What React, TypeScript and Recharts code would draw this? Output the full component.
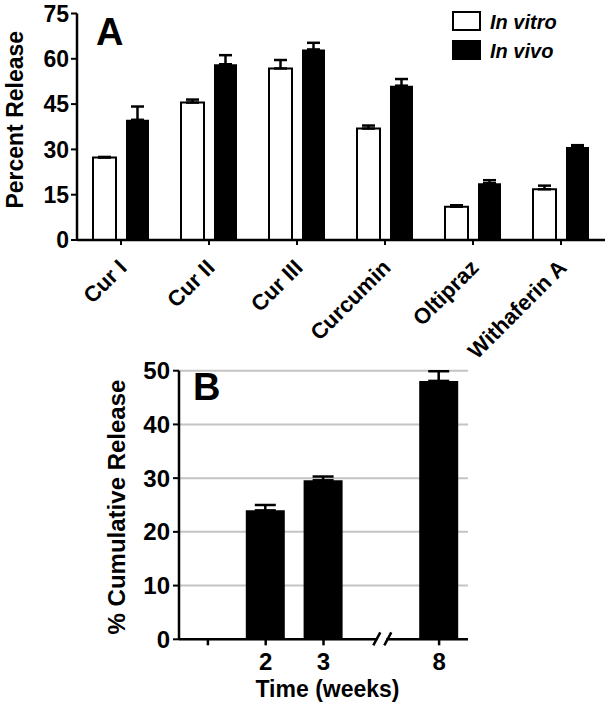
import React from 'react';
import { BarChart, Bar, XAxis, YAxis, ErrorBar, Legend, CartesianGrid } from 'recharts';

const FONT = '"Liberation Sans", Arial, Helvetica, sans-serif';

// Panel A
const compounds = ['Cur I', 'Cur II', 'Cur III', 'Curcumin', 'Oltipraz', 'Withaferin A'];
const inVitro = [27.3, 45.5, 56.8, 36.9, 11.0, 16.8];
const inVitroErr = [0.2, 1.0, 2.8, 1.0, 0.5, 1.2];
const inVivo = [39.8, 58.2, 63.1, 51.1, 18.8, 30.8];
const inVivoErr = [4.4, 3.0, 2.2, 2.2, 1.0, 0.6];
const percentTicks = [0, 15, 30, 45, 60, 75];

// Panel B ('//' marks the axis break)
const weeks = ['', '2', '3', '//', '8'];
const cumRelease = [null, 24.0, 29.6, null, 48.1];
const cumErr = [null, 1.0, 0.7, null, 1.8];
const cumTicks = [0, 10, 20, 30, 40, 50];

const dataA = compounds.map((name, i) => ({
  name,
  vitro: inVitro[i],
  vitroErr: [0, inVitroErr[i]],
  vivo: inVivo[i],
  vivoErr: [0, inVivoErr[i]],
}));

const dataB = weeks.map((week, i) => ({
  week,
  release: cumRelease[i],
  err: cumErr[i] == null ? null : [0, cumErr[i]],
}));

const tickFont = { fill: '#000', fontSize: 23, fontWeight: 'bold', fontFamily: FONT };

const CompoundTick = ({ x, y, payload }: any) => (
  <g transform={`translate(${x},${y})`}>
    <text x={7} y={24} transform="rotate(-45 7 24)" textAnchor="end" fontSize={22}
      fontWeight="bold" fontFamily={FONT} fill="#000">
      {payload.value}
    </text>
  </g>
);

const WeekTick = ({ x, y, payload }: any) => {
  if (payload.value === '//') {
    return (
      <g transform={`translate(${x},${y})`}>
        <rect x={-4} y={-3} width={9} height={6} fill="#fff" />
        <line x1={-8} y1={6} x2={-1} y2={-7} stroke="#000" strokeWidth={2.5} />
        <line x1={3} y1={6} x2={10} y2={-7} stroke="#000" strokeWidth={2.5} />
      </g>
    );
  }
  return (
    <g transform={`translate(${x},${y})`}>
      <line x1={0} y1={0} x2={0} y2={6} stroke="#000" strokeWidth={2.5} />
      <text x={0} y={31} textAnchor="middle" fontSize={24} fontWeight="bold" fontFamily={FONT} fill="#000">
        {payload.value}
      </text>
    </g>
  );
};

const YTitle = ({ viewBox, value, cx, shift, size }: any) => {
  const cy = viewBox.y + viewBox.height / 2 + shift;
  return (
    <text x={cx} y={cy} transform={`rotate(-90 ${cx} ${cy})`} textAnchor="middle"
      dominantBaseline="central" fontSize={size} fontWeight="bold" fontFamily={FONT} fill="#000">
      {value}
    </text>
  );
};

const XTitle = ({ viewBox, value, drop }: any) => (
  <text x={viewBox.x + viewBox.width / 2 + 4} y={viewBox.y + drop} textAnchor="middle" fontSize={23}
    fontWeight="bold" fontFamily={FONT} fill="#000">
    {value}
  </text>
);

const LegendBoxes = ({ payload }: any) => (
  <svg width={140} height={56}>
    {(payload || []).map((p: any, i: number) => (
      <g key={p.value}>
        <rect x={1} y={1 + i * 29} width={27} height={18} fill={p.color} stroke="#000" strokeWidth={2} />
        <text x={38} y={18 + i * 29} fontSize={20} fontWeight="bold" fontStyle="italic"
          fontFamily={FONT} fill="#000">
          {p.value}
        </text>
      </g>
    ))}
  </svg>
);

export default function App() {
  return (
    <div style={{ position: 'absolute', top: 0, left: 0, width: 612, height: 708, background: '#fff' }}>
      <div style={{ position: 'absolute', top: 0, left: 0 }}>
        <BarChart width={612} height={390} data={dataA} barSize={23} barGap={10}
          margin={{ top: 13.5, right: 7, bottom: 0, left: 0 }}>
          <XAxis dataKey="name" height={150} tick={<CompoundTick />} tickSize={5} tickMargin={0}
            axisLine={{ stroke: '#000', strokeWidth: 2.5 }} tickLine={{ stroke: '#000', strokeWidth: 2 }}
            interval={0} />
          <YAxis width={77} domain={[0, 75]} ticks={percentTicks} tick={tickFont} tickSize={6} tickMargin={2}
            axisLine={{ stroke: '#000', strokeWidth: 2.5 }} tickLine={{ stroke: '#000', strokeWidth: 2 }}
            label={<YTitle value="Percent Release" cx={15} shift={-7} size={23} />} />
          <Legend layout="horizontal" verticalAlign="middle" align="center"
            wrapperStyle={{ top: 11, left: 452, width: 140, height: 56 }} content={<LegendBoxes />} />
          <Bar dataKey="vitro" name="In vitro" fill="#fff" stroke="#000" strokeWidth={2} isAnimationActive={false}>
            <ErrorBar dataKey="vitroErr" direction="y" width={6.5} stroke="#000" strokeWidth={2.5} isAnimationActive={false} />
          </Bar>
          <Bar dataKey="vivo" name="In vivo" fill="#000" isAnimationActive={false}>
            <ErrorBar dataKey="vivoErr" direction="y" width={6.5} stroke="#000" strokeWidth={2.5} isAnimationActive={false} />
          </Bar>
          <text x={96} y={45} fontSize={38} fontWeight="bold" fontFamily={FONT} fill="#000">A</text>
        </BarChart>
      </div>
      <div style={{ position: 'absolute', top: 330, left: 0 }}>
        <BarChart width={612} height={378} data={dataB} barSize={39}
          margin={{ top: 40.7, right: 144, bottom: 0, left: 0 }}>
          <CartesianGrid vertical={false} stroke="#c4c4c4" strokeWidth={2} />
          <XAxis dataKey="week" height={68.7} tick={<WeekTick />} tickSize={0} tickMargin={0} tickLine={false}
            axisLine={{ stroke: '#000', strokeWidth: 2.5 }} interval={0}
            label={<XTitle value="Time (weeks)" drop={58} />} />
          <YAxis width={179} domain={[0, 50]} ticks={cumTicks} tick={{ ...tickFont, fontSize: 24 }} tickSize={6} tickMargin={3}
            axisLine={{ stroke: '#000', strokeWidth: 2.5 }} tickLine={{ stroke: '#000', strokeWidth: 2 }}
            label={<YTitle value="% Cumulative Release" cx={116} shift={2} size={24} />} />
          <Bar dataKey="release" fill="#000" isAnimationActive={false}>
            <ErrorBar dataKey="err" direction="y" width={10.5} stroke="#000" strokeWidth={2.5} isAnimationActive={false} />
          </Bar>
          <text x={193} y={70} fontSize={38} fontWeight="bold" fontFamily={FONT} fill="#000">B</text>
        </BarChart>
      </div>
    </div>
  );
}
